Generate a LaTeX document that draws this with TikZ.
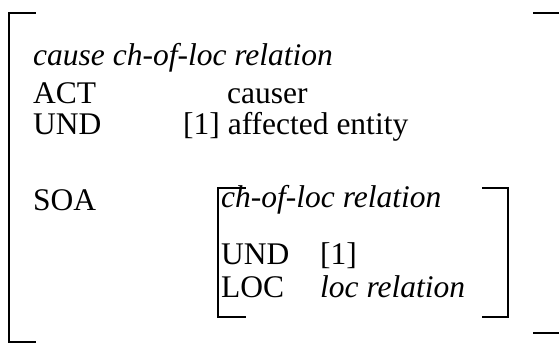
\documentclass[tikz,border=0pt]{standalone}
\usepackage{fontspec}
\setmainfont{Liberation Serif}
\begin{document}
\begin{tikzpicture}[x=1pt,y=-1pt,font=\fontsize{31.5}{38}\selectfont,
  txt/.style={anchor=base west,inner sep=0pt},
  brk/.style={line width=2pt,line cap=rect}]
\useasboundingbox (0,0) rectangle (559,344);
\draw[brk] (35,13)--(9,13)--(9,342)--(35,342);
\draw[brk] (534,13)--(559,13);\draw[brk] (534,333)--(559,333);
\node[txt] (causehead) at (33,66) {\itshape cause ch-of-loc relation};
\node[txt] (actlbl) at (33,104) {ACT};\node[txt] (actval) at (227,104) {causer};
\node[txt] (undlbl) at (33,135) {UND};\node[txt] (undval) at (183,135) {[1] affected entity};
\node[txt] (soalbl) at (33,211) {SOA};
\begin{scope}
\draw[brk,line width=1.6pt] (245,188)--(218,188)--(218,317)--(245,317);
\draw[brk,line width=1.6pt] (483,188)--(508,188)--(508,317)--(483,317);
\node[txt] (innerhead) at (221,208) {\itshape ch-of-loc relation};
\node[txt] (innerund) at (221,265) {UND};\node[txt] (innerundval) at (320,265) {[1]};
\node[txt] (innerloc) at (221,298) {LOC};\node[txt] (innerlocval) at (320,298) {\itshape loc relation};
\end{scope}
\end{tikzpicture}
\end{document}
